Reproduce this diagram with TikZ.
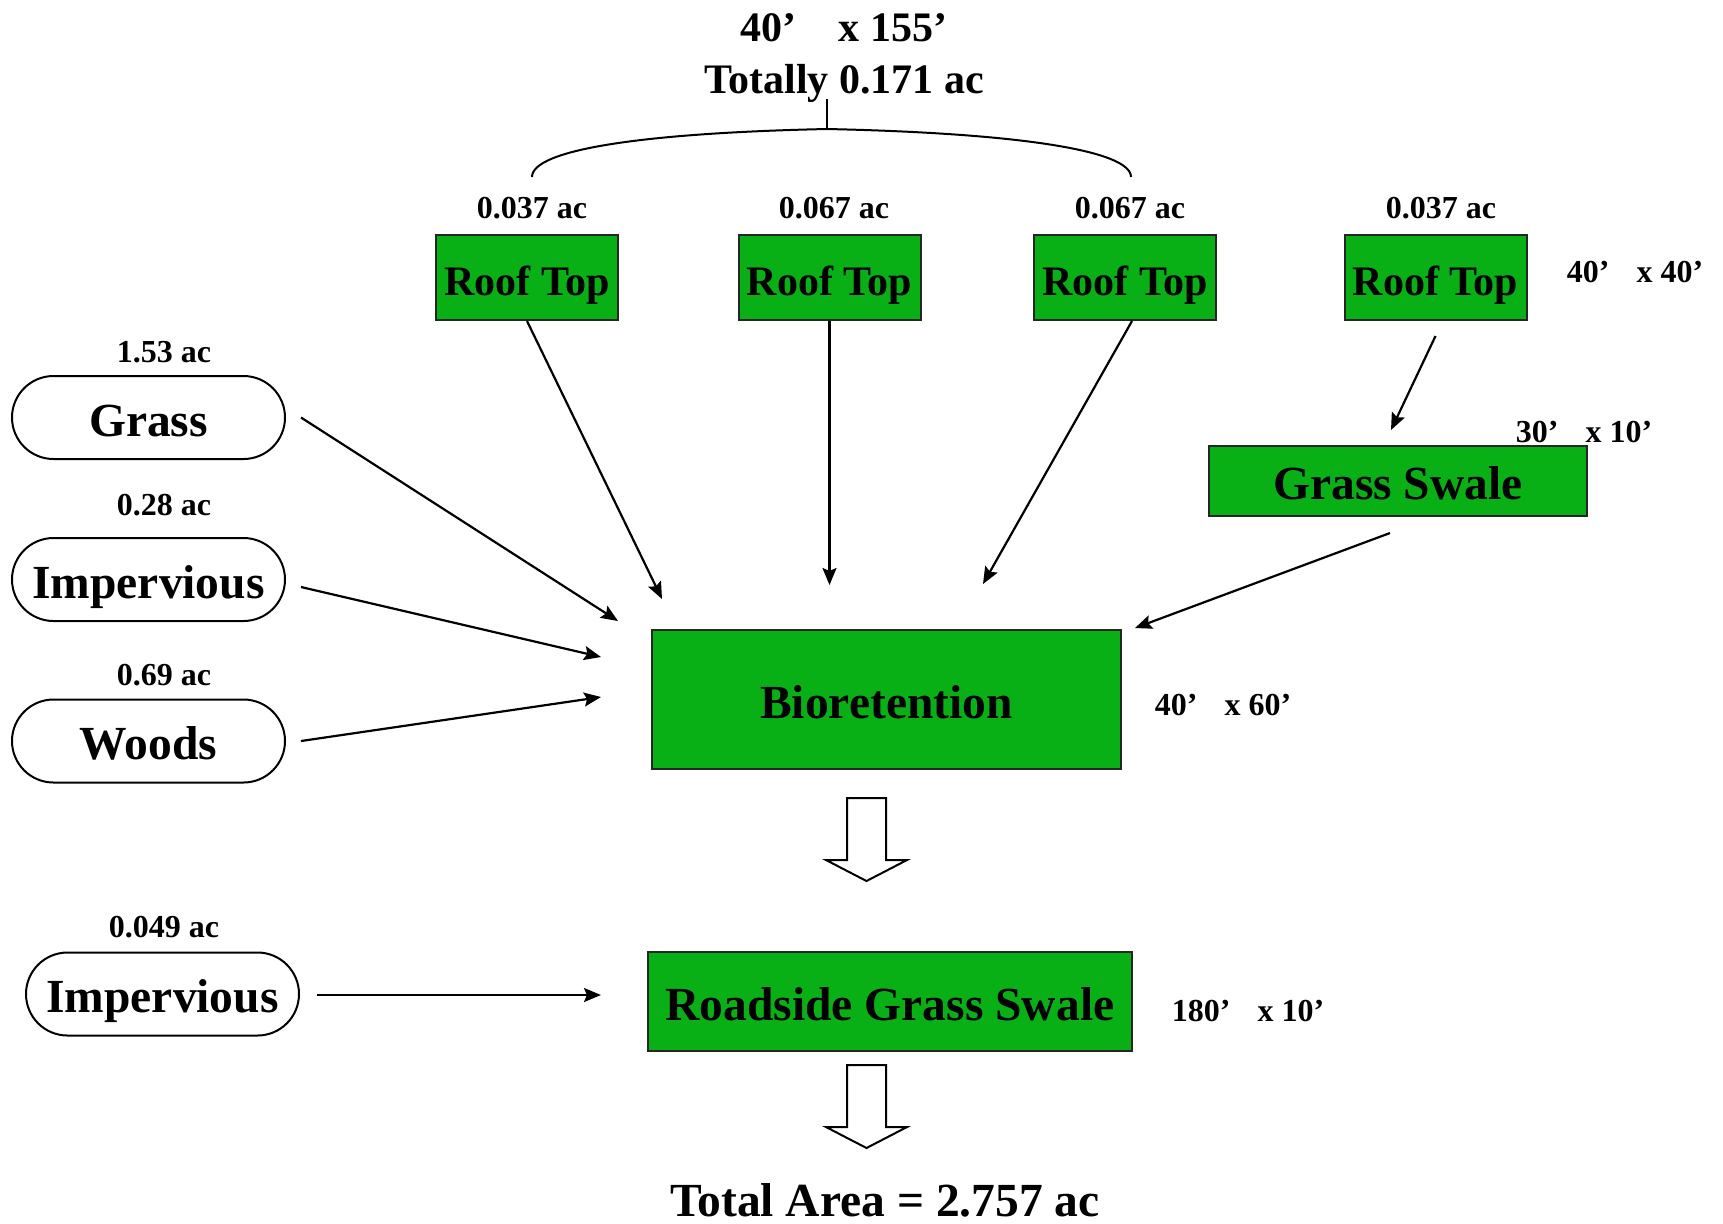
\documentclass[tikz,border=0pt]{standalone}
\usepackage{fontspec}
\setmainfont{Liberation Serif}
\usetikzlibrary{arrows.meta,calc,shapes.misc}
\definecolor{swalegreen}{RGB}{9,176,21}
\tikzset{
  bigtext/.style={font=\bfseries\fontsize{23.75}{28}\selectfont},
  midtext/.style={font=\bfseries\fontsize{21}{25}\selectfont},
  smalltext/.style={font=\bfseries\fontsize{16}{19}\selectfont,anchor=base,inner sep=0pt},
  bigbox/.style={bigtext,text height=18.5pt,text depth=0pt,inner sep=0pt},
  greenbox/.style={draw=black!85,fill=swalegreen,line width=1pt,inner sep=0pt},
  roofbox/.style={greenbox,midtext,text height=18pt,text depth=0pt,minimum width=91pt,minimum height=42.5pt},
  landuse/.style={draw,rounded rectangle,line width=1pt,bigbox,minimum width=136.5pt,minimum height=41.5pt},
  flow/.style={-{Stealth[length=8.5pt,width=7pt,inset=1.5pt]},line width=1.1pt},
  bigarrow/.style={draw,fill=white,line width=1pt}
}
\begin{document}
\begin{tikzpicture}[x=0.5pt,y=-0.5pt]
  \useasboundingbox (0,0) rectangle (1723,1223);
  % roofs
  \node[roofbox] (roof1) at (527,277.5) {Roof Top};
  \node[roofbox] (roof2) at (829.5,277.5) {Roof Top};
  \node[roofbox] (roof3) at (1125,277.5) {Roof Top};
  \node[roofbox] (roof4) at (1435.5,277.5) {Roof Top};
  \node[smalltext] (ac1) at (532,218) {0.037 ac};
  \node[smalltext] (ac2) at (834,218) {0.067 ac};
  \node[smalltext] (ac3) at (1130,218) {0.067 ac};
  \node[smalltext] (ac4) at (1441,218) {0.037 ac};
  \node[smalltext] (dimroof4) at (1635,282) {40’\hspace{0.6em} x 40’};
  \node[midtext,anchor=base,inner sep=0pt] (dimroofs) at (844,41) {40’\hspace{0.75em} x 155’};
  \node[midtext,anchor=base,inner sep=0pt] (totroofs) at (844,93) {Totally 0.171 ac};
  \draw[line width=1pt] (827,99) -- (827,129);
  \draw[line width=1pt] (532,177) .. controls (532,150) and (640,133) .. (827,129)
                                  .. controls (1014,133) and (1131,150) .. (1131,177);
  % practices
  \node[greenbox,bigbox,minimum width=189pt,minimum height=35pt] (swale) at (1398,481) {Grass Swale};
  \node[smalltext] (dimswale) at (1584,442) {30’\hspace{0.6em} x 10’};
  \node[greenbox,bigbox,minimum width=234.5pt,minimum height=69.5pt] (bio) at (886.5,699.5) {Bioretention};
  \node[smalltext] (dimbio) at (1223,715) {40’\hspace{0.6em} x 60’};
  \node[greenbox,bigbox,minimum width=242pt,minimum height=49.5pt] (road) at (890,1001.5) {Roadside Grass Swale};
  \node[smalltext] (dimroad) at (1248,1021) {180’\hspace{0.6em} x 10’};
  % land uses
  \node[landuse] (grass) at (148.5,417.5) {Grass};
  \node[landuse] (imp) at (148.5,579.5) {Impervious};
  \node[landuse] (woods) at (148.5,741) {Woods};
  \node[landuse] (improad) at (162.5,994) {Impervious};
  \node[smalltext] (acgrass) at (164,362) {1.53 ac};
  \node[smalltext] (acimp) at (164,515) {0.28 ac};
  \node[smalltext] (acwoods) at (164,685) {0.69 ac};
  \node[smalltext] (acimproad) at (164,937) {0.049 ac};
  \node[bigtext,anchor=base,inner sep=0pt] (total) at (885,1216) {Total Area = 2.757 ac};
  % flows
  \draw[flow] (roof1.south) -- ($(bio.north west)+(11,-30)$);
  \draw[flow] (roof2.south) -- ($(roof2.south |- bio.north)+(0,-44)$);
  \draw[flow] ($(roof3.south)+(7,0)$) -- ($(bio.north)+(96.5,-45)$);
  \draw[flow] ($(roof4.south)+(0,15)$) -- ($(swale.north)+(-7,-15)$);
  \draw[flow] ($(swale.south)+(-8,16)$) -- ($(bio.north east)+(13,-1)$);
  \draw[flow] ($(grass.east)+(15,0)$) -- ($(bio.north west)+(-33,-8)$);
  \draw[flow] ($(imp.east)+(15,7.5)$) -- ($(bio.west)+(-50,-42.5)$);
  \draw[flow] ($(woods.east)+(15,0)$) -- ($(bio.west)+(-50,-2.5)$);
  \draw[flow] ($(improad.east)+(17,1)$) -- ($(road.west)+(-46,-6.5)$);
  \foreach \ytop in {798,1065}
    \draw[bigarrow] (847,\ytop) -- (886,\ytop) -- (886,\ytop+62) -- (907,\ytop+62)
      -- (866.5,\ytop+83) -- (826,\ytop+62) -- (847,\ytop+62) -- cycle;
\end{tikzpicture}
\end{document}
